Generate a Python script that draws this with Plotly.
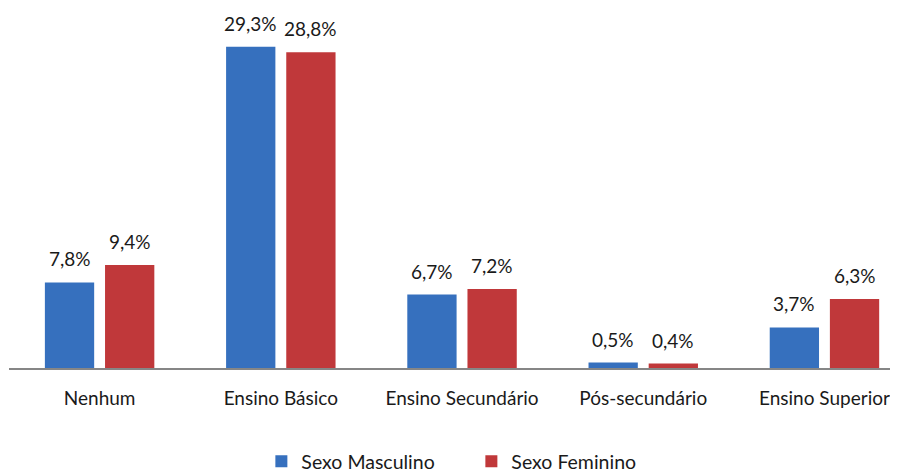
import plotly.graph_objects as go

categories = ['Nenhum', 'Ensino Básico', 'Ensino Secundário', 'Pós-secundário', 'Ensino Superior']
masculino = [7.8, 29.3, 6.7, 0.5, 3.7]
feminino = [9.4, 28.8, 7.2, 0.4, 6.3]

font_family = 'Lato, "Noto Sans", sans-serif'
bar_w = 0.272

fig = go.Figure()

fig.add_trace(go.Bar(
    x=categories, y=masculino, name='Sexo Masculino',
    marker=dict(color='#3670BE', line=dict(width=0)),
    width=bar_w, offset=-0.302,
))
fig.add_trace(go.Bar(
    x=categories, y=feminino, name='Sexo Feminino',
    marker=dict(color='#C0383A', line=dict(width=0)),
    width=bar_w, offset=0.030,
))

# value labels above the bars
for i, cat in enumerate(categories):
    for val, off in [(masculino[i], -0.302), (feminino[i], 0.030)]:
        fig.add_annotation(
            x=i + off + bar_w / 2, y=val, text=f'{val:.1f}%'.replace('.', ','),
            showarrow=False, yanchor='bottom', yshift=10,
            font=dict(size=19, color='#1a1a1a', family=font_family),
        )

fig.update_layout(
    width=898, height=473,
    margin=dict(l=1, r=0, t=8, b=113),
    paper_bgcolor='white', plot_bgcolor='white',
    barmode='overlay',
    font=dict(family=font_family, size=19, color='#1a1a1a'),
    xaxis=dict(
        range=[-0.5, 4.45], showline=True, linecolor='#868686', linewidth=1.5,
        ticks='', showgrid=False, tickfont=dict(size=19), ticklabelstandoff=12,
    ),
    yaxis=dict(range=[0, 32.1], visible=False, showgrid=False),
    legend=dict(
        orientation='h', x=0.516, xanchor='center', xref='container',
        y=-0.006, yanchor='bottom', yref='container',
        font=dict(size=19.5), itemwidth=30, traceorder='normal', entrywidth=165,
    ),
)

fig.write_html("out.html")
